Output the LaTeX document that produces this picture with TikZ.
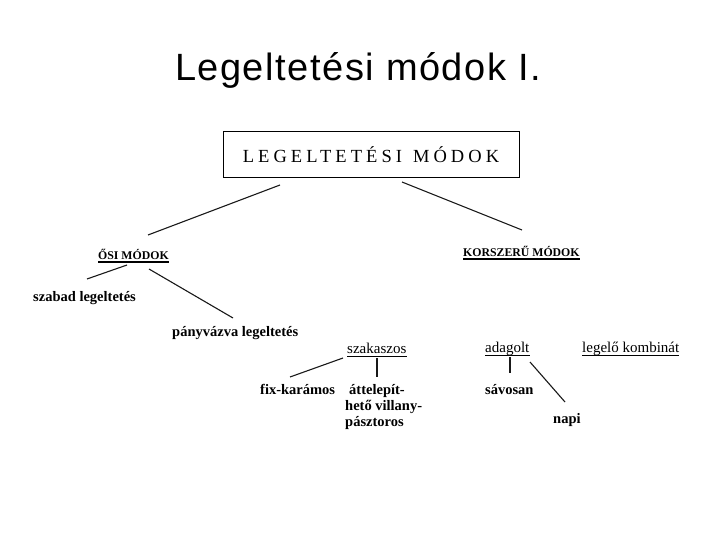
\documentclass[tikz,border=0pt]{standalone}
\usepackage{fontspec}
\setmainfont{Liberation Serif}
\newfontfamily\titlefont[LetterSpace=4]{Liberation Sans}
\newfontfamily\boxfont[LetterSpace=22]{Liberation Serif}
\begin{document}
\begin{tikzpicture}[x=1pt,y=-1pt,
  conn/.style={line width=1.1pt, draw=black!90},
  lbl/.style={inner sep=0pt, anchor=base west, font=\bfseries\fontsize{14.5}{16}\selectfont},
  ulbl/.style={inner sep=0pt, anchor=base west, font=\fontsize{15}{17}\selectfont},
  caplbl/.style={inner sep=0pt, anchor=base west, font=\bfseries\fontsize{11.8}{14}\selectfont},
  uline/.style={line width=1.3pt}]
\useasboundingbox (0,0) rectangle (720,540);

% title
\node[inner sep=0pt, anchor=base, font=\titlefont\fontsize{38}{42}\selectfont] (title) at (358,81) {Legeltetési módok I.};

% main box
\node[draw, line width=1pt, minimum width=296pt, minimum height=46pt, inner sep=0pt,
      font=\boxfont\fontsize{18.5}{22}\selectfont] (box) at (371,155) {LEGELTETÉSI\hspace{11pt}MÓDOK};

% level 1
\node[caplbl] (osi) at (98,259) {ŐSI MÓDOK};
\node[caplbl] (kor) at (463,256) {KORSZERŰ MÓDOK};
\draw[uline] ([yshift=-3pt]osi.base west) -- ([yshift=-3pt]osi.base east);
\draw[uline] ([yshift=-3pt]kor.base west) -- ([yshift=-3pt]kor.base east);

% level 2
\node[lbl] (szabad) at (33,301) {szabad legeltetés};
\node[lbl] (pany) at (172,336) {pányvázva legeltetés};
\node[ulbl] (szak) at (347,353) {szakaszos};
\node[ulbl] (adag) at (485,352) {adagolt};
\node[ulbl] (komb) at (582,352) {legelő kombinát};
\draw[uline] ([yshift=-3.5pt]szak.base west) -- ([yshift=-3.5pt]szak.base east);
\draw[uline] ([yshift=-3.5pt]adag.base west) -- ([yshift=-3.5pt]adag.base east);
\draw[uline] ([yshift=-3.5pt]komb.base west) -- ([yshift=-3.5pt]komb.base east);

% level 3
\node[lbl] (fix) at (260,394) {fix-karámos};
\node[lbl, anchor=north west, align=left, font=\bfseries\fontsize{14.5}{16.2}\selectfont] (atte) at (345,384)
  {\hspace{4pt}áttelepít-\\hető villany-\\pásztoros};
\node[lbl] (savo) at (485,394) {sávosan};
\node[lbl] (napi) at (553,423) {napi};

% connector end points
\coordinate (b1) at (280,185);
\coordinate (o1) at (148,235);
\coordinate (b2) at (402,182);
\coordinate (k1) at (522,230);
\coordinate (o2) at (127,265);
\coordinate (s1) at (87,279);
\coordinate (o3) at (149,269);
\coordinate (p1) at (233,318);
\coordinate (z1) at (343,358);
\coordinate (f1) at (290,377);
\coordinate (z2) at (377,358);
\coordinate (t1) at (377,377);
\coordinate (a1) at (510,357);
\coordinate (v1) at (510,373);
\coordinate (a2) at (530,362);
\coordinate (n1) at (565,402);

\draw[conn] (b1) -- (o1);
\draw[conn] (b2) -- (k1);
\draw[conn] (o2) -- (s1);
\draw[conn] (o3) -- (p1);
\draw[conn] (z1) -- (f1);
\draw[conn] (z2) -- (t1);
\draw[conn] (a1) -- (v1);
\draw[conn] (a2) -- (n1);
\end{tikzpicture}
\end{document}
